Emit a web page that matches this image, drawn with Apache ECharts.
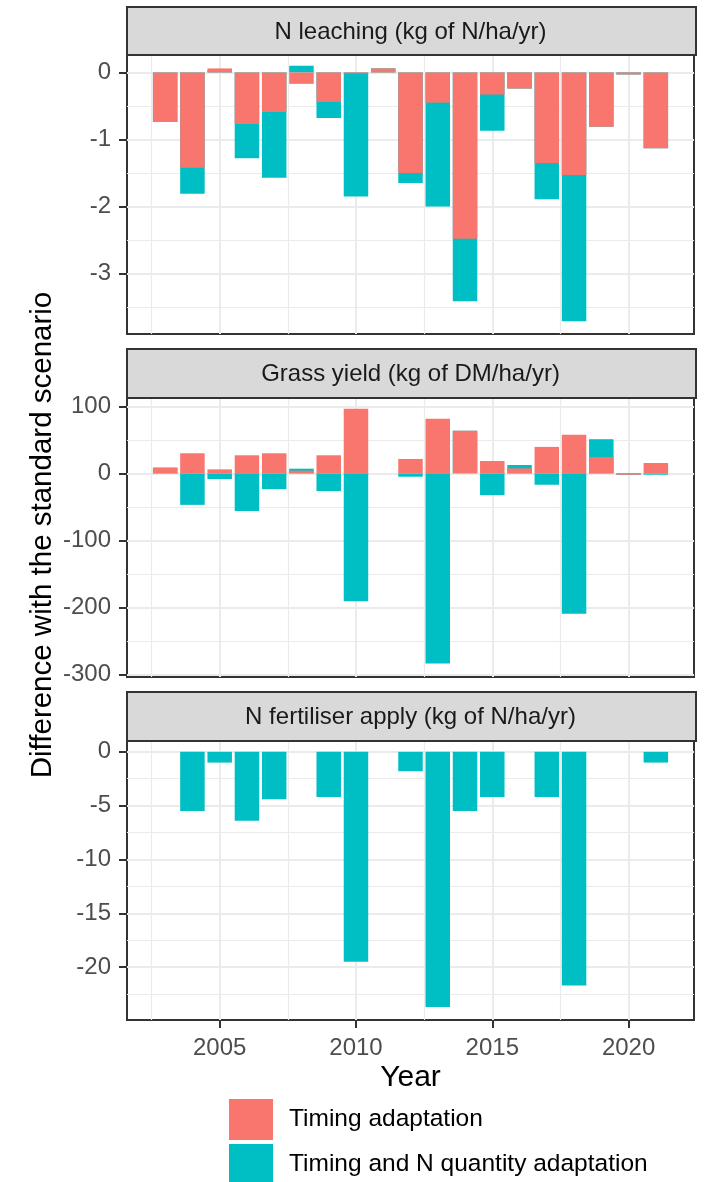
<!DOCTYPE html>
<html><head><meta charset="utf-8">
<script src="https://cdn.jsdelivr.net/npm/echarts@6/dist/echarts.min.js"></script>
<style>html,body{margin:0;padding:0;background:#fff}#c{width:705px;height:1182px}</style>
</head><body><div id="c"></div>
<script>
// ---- data ----
const years = [2003,2004,2005,2006,2007,2008,2009,2010,2011,2012,2013,2014,2015,2016,2017,2018,2019,2020,2021];
const seriesNames = ['Timing adaptation', 'Timing and N quantity adaptation'];
const panelTitles = ['N leaching (kg of N/ha/yr)', 'Grass yield (kg of DM/ha/yr)', 'N fertiliser apply (kg of N/ha/yr)'];

const leachTiming  = [-0.74,-1.42,0.06,-0.77,-0.59,-0.17,-0.44,-0.015,0.06,-1.50,-0.45,-2.48,-0.33,-0.24,-1.35,-1.53,-0.81,-0.03,-1.13];
const leachTimingN = [-0.74,-1.81,0.03,-1.28,-1.57,0.10,-0.68,-1.85,0.06,-1.65,-2.00,-3.41,-0.87,-0.24,-1.89,-3.71,-0.81,-0.03,-1.13];

const yieldTiming  = [8.5,30,6,27,30,4,27,96.5,0,21.5,81.5,63.5,18.5,7.5,39.5,57.5,24.5,-2,15.5];
const yieldTimingN = [8.5,-47,-8.5,-56,-23.5,7,-26.5,-191,0,-5,-284,63.5,-32.5,12.5,-17,-209.5,51,-2,-2];

const fertTiming  = [0,0,0,0,0,0,0,0,0,0,0,0,0,0,0,0,0,0,0];
const fertTimingN = [0,-5.5,-1.0,-6.4,-4.4,0,-4.2,-19.5,0,-1.8,-23.7,-5.5,-4.2,0,-4.2,-21.7,0,0,-1.0];

const xMajorTicks = [2005, 2010, 2015, 2020];
const xMinorTicks = [2002.5, 2007.5, 2012.5, 2017.5];
const yMajorTicks = [[-3,-2,-1,0], [-300,-200,-100,0,100], [-20,-15,-10,-5,0]];
const yMinorTicks = [[-3.5,-2.5,-1.5,-0.5], [-250,-150,-50,50], [-22.5,-17.5,-12.5,-7.5,-2.5]];
const yRanges = [[-3.9, 0.29], [-304, 115.5], [-24.9, 1.19]];
const xRange = [2001.6, 2022.4];

// ---- layout / style ----
const FONT = '"Liberation Sans", Arial, sans-serif';
const RED = '#F8766D', TEAL = '#00BFC4';
const panels = [
  {stripTop: 7, stripH: 46, top: 53},
  {stripTop: 349, stripH: 47, top: 396},
  {stripTop: 692, stripH: 47, top: 739}
];
const PH = 281, LEFT = 127, RIGHT = 11, PW = 705 - LEFT - RIGHT;

const dataSets = [[leachTiming, leachTimingN], [yieldTiming, yieldTimingN], [fertTiming, fertTimingN]];
const plain = v => String(v);

const grid = [], xAxis = [], yAxis = [], series = [], graphic = [];
panels.forEach((p, i) => {
  grid.push({left: LEFT, right: RIGHT, top: p.top, height: PH, show: true,
    backgroundColor: '#fff', borderColor: '#333', borderWidth: 2, containLabel: false});
  const last = i === panels.length - 1;
  xAxis.push({type: 'value', gridIndex: i, min: xRange[0], max: xRange[1], position: 'bottom',
    axisLine: {show: false, onZero: false},
    axisTick: {show: last, customValues: xMajorTicks, length: 8, lineStyle: {color: '#333', width: 2}},
    axisLabel: {show: last, customValues: xMajorTicks, formatter: plain, fontSize: 24, color: '#4D4D4D', fontFamily: FONT, margin: 16},
    splitLine: {show: true, lineStyle: {color: '#EBEBEB', width: 2}}
  });
  xAxis.push({type: 'value', gridIndex: i, min: xRange[0], max: xRange[1], position: 'bottom',
    axisLine: {show: false, onZero: false},
    axisTick: {show: false, customValues: xMinorTicks},
    axisLabel: {show: false, customValues: xMinorTicks},
    splitLine: {show: true, lineStyle: {color: '#EBEBEB', width: 1.2}}
  });
  yAxis.push({type: 'value', gridIndex: i, min: yRanges[i][0], max: yRanges[i][1], position: 'left',
    axisLine: {show: false, onZero: false},
    axisTick: {show: true, customValues: yMajorTicks[i], length: 8, lineStyle: {color: '#333', width: 2}},
    axisLabel: {show: true, customValues: yMajorTicks[i], formatter: plain, fontSize: 24, color: '#4D4D4D', fontFamily: FONT, margin: 16},
    splitLine: {show: true, lineStyle: {color: '#EBEBEB', width: 2}}
  });
  yAxis.push({type: 'value', gridIndex: i, min: yRanges[i][0], max: yRanges[i][1], position: 'left',
    axisLine: {show: false, onZero: false},
    axisTick: {show: false, customValues: yMinorTicks[i]},
    axisLabel: {show: false, customValues: yMinorTicks[i]},
    splitLine: {show: true, lineStyle: {color: '#EBEBEB', width: 1.2}}
  });
  const [red, teal] = dataSets[i];
  series.push({name: seriesNames[1], type: 'bar', xAxisIndex: 2*i, yAxisIndex: 2*i,
    data: years.map((y, k) => [y, teal[k]]), barWidth: 24.5, barGap: '-100%',
    itemStyle: {color: TEAL}, z: 2});
  series.push({name: seriesNames[0], type: 'bar', xAxisIndex: 2*i, yAxisIndex: 2*i,
    data: years.map((y, k) => [y, red[k]]), barWidth: 24.5, barGap: '-100%',
    itemStyle: {color: RED}, z: 3});
  graphic.push({type: 'rect', left: LEFT - 1, top: p.stripTop - 1, z: 10,
    shape: {width: PW + 2, height: p.stripH + 2},
    style: {fill: '#D9D9D9', stroke: '#333', lineWidth: 2}});
  graphic.push({type: 'text', x: LEFT + PW / 2, y: p.stripTop + p.stripH / 2 + 2, z: 11,
    style: {text: panelTitles[i], fontSize: 24, fontFamily: FONT, fill: '#1A1A1A',
      textAlign: 'center', textVerticalAlign: 'middle'}});
});

graphic.push({type: 'text', x: LEFT + PW / 2, y: 1078, z: 11,
  style: {text: 'Year', fontSize: 30, fontFamily: FONT, fill: '#000', textAlign: 'center', textVerticalAlign: 'middle'}});
graphic.push({type: 'text', x: 43, y: 535, rotation: Math.PI / 2, z: 11,
  style: {text: 'Difference with the standard scenario', fontSize: 29.5, fontFamily: FONT, fill: '#000',
    textAlign: 'center', textVerticalAlign: 'middle'}});

const legendBase = {orient: 'vertical', left: 229, padding: 0,
  itemWidth: 44, itemHeight: 41, icon: 'rect', selectedMode: false,
  textStyle: {fontSize: 24.5, color: '#000', fontFamily: FONT, padding: [6, 0, 0, 11]}};

const chart = echarts.init(document.getElementById('c'), null, {renderer: 'canvas'});
chart.setOption({
  animation: false,
  backgroundColor: '#fff',
  grid, xAxis, yAxis, series, graphic,
  legend: [
    Object.assign({}, legendBase, {data: [seriesNames[0]], top: 1099}),
    Object.assign({}, legendBase, {data: [seriesNames[1]], top: 1144})
  ]
});
</script></body></html>
